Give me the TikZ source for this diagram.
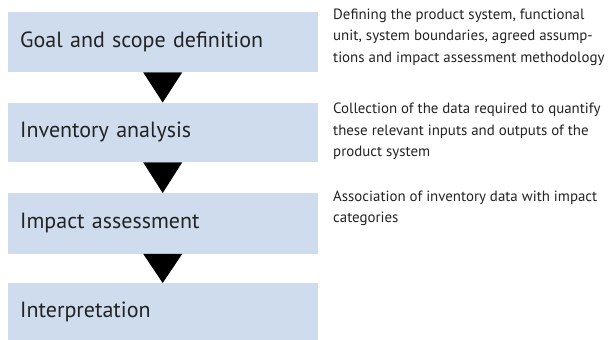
\documentclass[tikz,border=0pt]{standalone}
\usepackage{fontspec}
\setmainfont{PT Sans}
\usetikzlibrary{calc}
\definecolor{boxblue}{RGB}{206,220,238}
\definecolor{ink}{RGB}{35,35,35}
\begin{document}
\begin{tikzpicture}[x=1pt,y=-1pt,
  stage/.style={fill=boxblue, draw=none, anchor=north west, minimum width=305.5pt,
    text width=285pt, inner xsep=12.5pt, align=left, text=ink,
    font=\fontsize{22}{25}\selectfont},
  desc/.style={anchor=north west, inner sep=0pt, align=left, text=ink,
    font=\fontsize{14.9}{21.2}\selectfont},
  arrowtri/.style={fill=black}]
\useasboundingbox (0,0) rectangle (616,340);
\node[stage, minimum height=60pt] (b1) at (7.5,12) {Goal and scope definition};
\node[stage, minimum height=59.5pt] (b2) at (7.5,102.5) {Inventory analysis};
\node[stage, minimum height=60.5pt] (b3) at (7.5,193) {Impact assessment};
\node[stage, minimum height=57pt] (b4) at (7.5,283) {Interpretation};
\foreach \a/\b in {b1/b2,b2/b3,b3/b4}{
  \fill[arrowtri] ($(\a.south)+(-19.5,0)$) -- ($(\a.south)+(19.5,0)$) -- (\b.north) -- cycle;
}
\node[desc] (d1) at (333,9) {Defining the product system, functional\\unit, system boundaries, agreed assump-\\tions and impact assessment methodology};
\node[desc] (d2) at (333,103) {Collection of the data required to quantify\\these relevant inputs and outputs of the\\product system};
\node[desc] (d3) at (333,191) {Association of inventory data with impact\\categories};
\end{tikzpicture}
\end{document}
